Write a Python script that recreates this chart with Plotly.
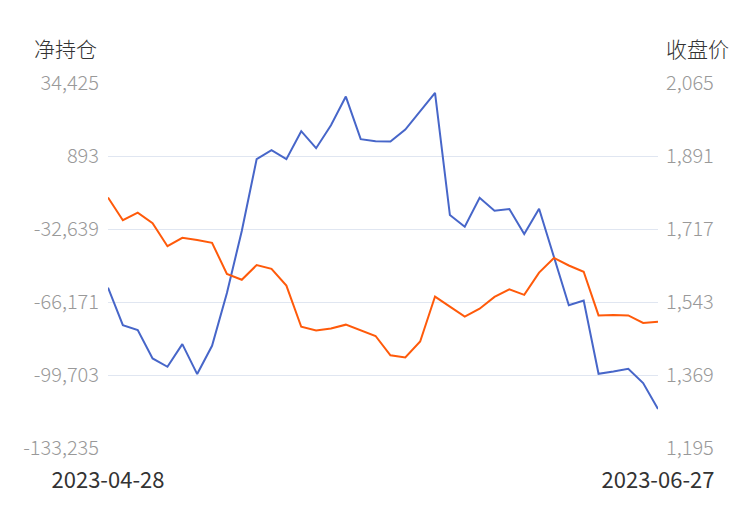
import plotly.graph_objects as go

dates = ["2023-04-28", "2023-05-04", "2023-05-05", "2023-05-08", "2023-05-09", "2023-05-10",
         "2023-05-11", "2023-05-12", "2023-05-15", "2023-05-16", "2023-05-17", "2023-05-18",
         "2023-05-19", "2023-05-22", "2023-05-23", "2023-05-24", "2023-05-25", "2023-05-26",
         "2023-05-29", "2023-05-30", "2023-05-31", "2023-06-01", "2023-06-02", "2023-06-05",
         "2023-06-06", "2023-06-07", "2023-06-08", "2023-06-09", "2023-06-12", "2023-06-13",
         "2023-06-14", "2023-06-15", "2023-06-16", "2023-06-19", "2023-06-20", "2023-06-21",
         "2023-06-26", "2023-06-27"]

net_position = [-59568, -76807, -79100, -92121, -95927, -85519, -99274, -86298, -61998, -33571,
                -559, 3568, -559, 12279, 4485, 15030, 28189, 8611, 7694, 7557,
                13059, 21449, 29840, -26235, -31599, -18303, -24263, -23484, -34946, -23346,
                -45492, -67637, -65528, -99136, -98082, -96844, -103400, -115321]

close_price = [1792, 1738, 1756, 1731, 1676, 1696, 1691, 1684, 1610, 1596,
               1631, 1622, 1582, 1484, 1475, 1480, 1489, 1475, 1462, 1416,
               1411, 1449, 1556, 1532, 1508, 1527, 1555, 1573, 1560, 1613,
               1648, 1630, 1615, 1511, 1512, 1511, 1493, 1496]

left_ticks = [-133235, -99703, -66171, -32639, 893, 34425]
right_ticks = [1195, 1369, 1543, 1717, 1891, 2065]

FONT = "Noto Sans CJK SC"
x_idx = list(range(len(dates)))

fig = go.Figure()
fig.add_trace(go.Scatter(x=x_idx, y=net_position, mode="lines", name="净持仓",
                         line=dict(color="#4766c9", width=2), yaxis="y"))
fig.add_trace(go.Scatter(x=x_idx, y=close_price, mode="lines", name="收盘价",
                         line=dict(color="#ff5a0a", width=2), yaxis="y2"))

fig.update_layout(
    width=750, height=510,
    margin=dict(l=100, r=100, t=75, b=70),
    paper_bgcolor="white", plot_bgcolor="white",
    showlegend=False,
    font=dict(family=FONT),
    xaxis=dict(
        range=[0, len(dates) - 1],
        tickvals=[0, len(dates) - 1],
        ticktext=[dates[0], dates[-1]],
        showgrid=False, zeroline=False, showline=False,
        tickfont=dict(size=22, color="#333333", family=FONT),
        ticklabelstandoff=17,
        automargin=False,
        fixedrange=True,
    ),
    yaxis=dict(
        range=[left_ticks[0], left_ticks[-1]],
        tickvals=left_ticks,
        ticktext=[f"{v:,}" for v in left_ticks],
        showgrid=True, gridcolor="#e0e6f1", gridwidth=1,
        zeroline=False, showline=False,
        tickfont=dict(size=20, color="#999999", family=FONT, weight=300),
        ticklabelstandoff=8,
        automargin=False,
    ),
    yaxis2=dict(
        range=[right_ticks[0], right_ticks[-1]],
        tickvals=right_ticks,
        ticktext=[f"{v:,}" for v in right_ticks],
        overlaying="y", side="right",
        showgrid=False, zeroline=False, showline=False,
        tickfont=dict(size=20, color="#999999", family=FONT, weight=300),
        ticklabelstandoff=7,
        automargin=False,
    ),
    annotations=[
        dict(text="净持仓", xref="paper", yref="paper", x=0.0, y=1.0, xshift=-76, yshift=35,
             xanchor="left", yanchor="middle", showarrow=False,
             font=dict(size=21, color="#333333", family=FONT, weight=300)),
        dict(text="收盘价", xref="paper", yref="paper", x=1.0, y=1.0, xshift=6, yshift=35,
             xanchor="left", yanchor="middle", showarrow=False,
             font=dict(size=21, color="#333333", family=FONT, weight=300)),
    ],
)

fig.write_html("out.html")
